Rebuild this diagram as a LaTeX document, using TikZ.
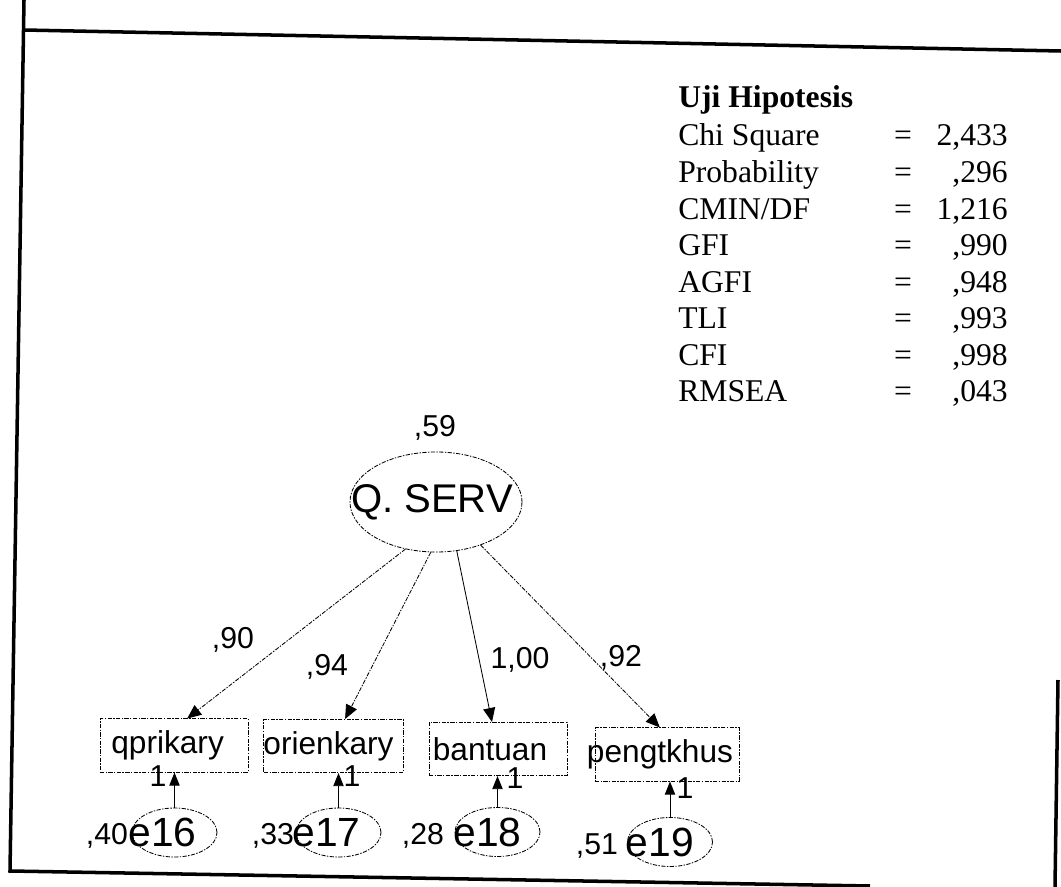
\documentclass[tikz,border=0pt]{standalone}
\usepackage{fontspec}
\setmainfont{Liberation Serif}
\newfontfamily\amosfont{Liberation Sans}
\usetikzlibrary{arrows.meta,shapes.geometric}

% text shifted a little left inside its shape, as in the scan
\newcommand{\shiftlbl}[2]{\makebox[0pt]{#2\kern#1}}

\begin{document}
\begin{tikzpicture}[
  x=0.025cm, y=-0.025cm,
  scan/.style={dash pattern=on 3pt off 1pt on 1pt off 1pt},
  latent/.style={draw, ellipse, scan, line width=0.6pt, inner sep=0pt,
    minimum width=4.3cm, minimum height=2.5cm, font=\amosfont\fontsize{28.5}{30}\selectfont},
  err/.style={draw, ellipse, scan, line width=0.6pt, inner sep=0pt,
    minimum width=2.125cm, minimum height=1.225cm, font=\amosfont\fontsize{29}{30}\selectfont},
  obs/.style={draw, rectangle, scan, line width=0.6pt, inner sep=0pt,
    minimum height=1.33cm, font=\amosfont\fontsize{22.5}{24}\selectfont},
  est/.style={inner sep=0pt, font=\amosfont\fontsize{21.5}{22}\selectfont},
  load/.style={scan, line width=0.6pt, -{Triangle[length=3.5mm, width=3mm]}},
  fix/.style={line width=0.7pt, -{Triangle[length=3.3mm, width=2.6mm]}},
  frame/.style={line width=2.5pt},
  tbl/.style={inner sep=0pt, font=\fontsize{22.5}{24}\selectfont}
]
  \useasboundingbox (0,0) rectangle (1061,887);

  % Frame
  \draw[frame] (24,0) -- (10,871) -- (870,886);
  \draw[frame] (24,30) -- (1061,51);
  \draw[frame] (1058,680) -- (1055,887);

  % Fit table
  \node[tbl, anchor=base west, font=\bfseries\fontsize{22.5}{24}\selectfont] (uji) at (678,108) {Uji Hipotesis};
  \foreach \lbl/\val [count=\i] in {Chi Square/{2,433}, Probability/{,296}, {CMIN/DF}/{1,216},
      GFI/{,990}, AGFI/{,948}, TLI/{,993}, CFI/{,998}, RMSEA/{,043}} {
    \node[tbl, anchor=base west] (lbl\i) at (678,{146+(\i-1)*36.5}) {\lbl};
    \node[tbl, anchor=base] (eq\i) at (903,{146+(\i-1)*36.5}) {=};
    \node[tbl, anchor=base east] (val\i) at (1008,{146+(\i-1)*36.5}) {\val};
  }

  % Latent and indicators
  \node[latent] (qserv) at (436,502) {\shiftlbl{0.2cm}{Q. SERV}};
  \node[est] (v59) at (435,428) {,59};

  \node[obs, minimum width=3.7cm] (qprikary) at (174,745.5) {\shiftlbl{0.32cm}{qprikary}};
  \node[obs, minimum width=3.48cm] (orienkary) at (333.5,746) {\shiftlbl{0.25cm}{orienkary}};
  \node[obs, minimum width=3.45cm] (bantuan) at (498,749) {\shiftlbl{0.4cm}{bantuan}};
  \node[obs, minimum width=3.6cm] (pengtkhus) at (667,754.5) {\shiftlbl{0.35cm}{pengtkhus}};

  \node[err] (e16) at (174.5,832.5) {\shiftlbl{0.6cm}{e16}};
  \node[err] (e17) at (338.5,832.5) {\shiftlbl{0.6cm}{e17}};
  \node[err] (e18) at (497.5,832) {\shiftlbl{0.5cm}{e18}};
  \node[err] (e19) at (670,842) {\shiftlbl{0.5cm}{e19}};

  % Loadings
  \draw[load] (qserv.237) -- ([xshift=0.33cm]qprikary.north);
  \draw[load] (qserv.264) -- ([xshift=0.29cm]orienkary.north);
  \draw[fix, line width=0.6pt, -{Triangle[length=3.5mm, width=3mm]}] (qserv.293) -- ([xshift=-0.15cm]bantuan.north);
  \draw[load] (qserv.316) -- ([xshift=-0.18cm]pengtkhus.north);

  \node[est] (l90) at (233,640) {,90};
  \node[est] (l94) at (327,667) {,94};
  \node[est] (l100) at (520,660) {1,00};
  \node[est] (l92) at (621,658) {,92};

  % Error terms
  \draw[fix] (e16.north) -- (e16.north |- qprikary.south);
  \draw[fix] (e17.north) -- (e17.north |- orienkary.south);
  \draw[fix] (e18.north) -- (e18.north |- bantuan.south);
  \draw[fix] (e19.north) -- (e19.north |- pengtkhus.south);

  \node[est] (one16) at (158,776) {1};
  \node[est] (one17) at (352,776) {1};
  \node[est] (one18) at (515,778) {1};
  \node[est] (one19) at (685,788) {1};

  \node[est] (v40) at (107,836) {,40};
  \node[est] (v33) at (273,836) {,33};
  \node[est] (v28) at (423,836) {,28};
  \node[est] (v51) at (597,846) {,51};
\end{tikzpicture}
\end{document}
